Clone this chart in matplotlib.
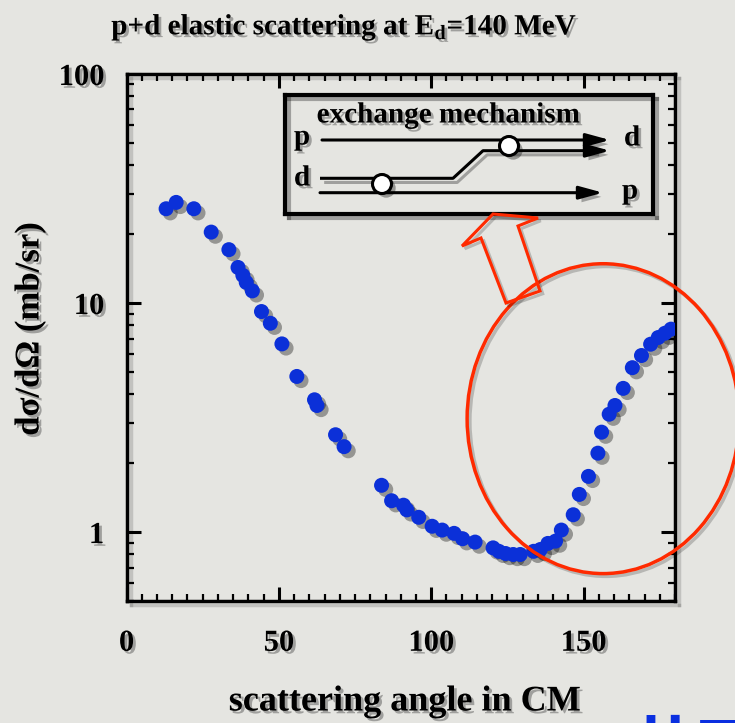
import numpy as np
import matplotlib
matplotlib.use('Agg')
import matplotlib.pyplot as plt
import matplotlib.patheffects as pe
from matplotlib.patches import Ellipse, Polygon, Circle, FancyArrowPatch
from matplotlib.ticker import MultipleLocator, LogLocator, FixedLocator, NullFormatter

plt.rcParams['font.family'] = ['Liberation Serif', 'DejaVu Serif']
plt.rcParams['font.weight'] = 'bold'
plt.rcParams['mathtext.fontset'] = 'custom'
plt.rcParams['mathtext.rm'] = 'Liberation Serif:bold'
plt.rcParams['mathtext.bf'] = 'Liberation Serif:bold'

# p+d elastic cross section
angle = [13.0, 16.3, 22.1, 27.8, 33.6, 36.6, 38.2, 39.3, 41.3, 44.3, 47.2, 51.0,
         55.9, 61.7, 62.5, 68.6, 71.4,
         83.7, 87.0, 90.9, 92.0, 95.9, 100.3, 103.6, 107.5, 110.3, 114.4, 120.3,
         122.2, 124.4, 126.9, 129.2, 133.6, 135.8, 138.3, 140.8, 142.7, 146.6,
         148.6, 151.6, 154.7,
         155.9, 158.4, 160.3, 163.0, 166.0, 169.0, 172.0, 174.5, 176.7, 178.7]
xsec = [25.8, 27.5, 25.8, 20.4, 17.1, 14.3, 13.2, 12.3, 11.3, 9.18, 8.16, 6.63,
        4.78, 3.78, 3.57, 2.66, 2.36,
        1.60, 1.37, 1.31, 1.25, 1.16, 1.06, 1.02, 0.987, 0.935, 0.904, 0.853,
        0.824, 0.806, 0.798, 0.798, 0.824, 0.839, 0.892, 0.913, 1.02, 1.19,
        1.46, 1.75, 2.21,
        2.73, 3.27, 3.57, 4.24, 5.22, 5.90, 6.61, 7.07, 7.38, 7.69]

x_ticks = [0, 50, 100, 150]
y_ticks = [1, 10, 100]

bg = '#e5e5e1'
W, H = 735, 723


def shadow(off=(2, -2), a=0.3):
    return [pe.SimplePatchShadow(offset=off, shadow_rgbFace='black', alpha=a), pe.Normal()]


def lshadow(off=(2, -2), a=0.3):
    return [pe.SimpleLineShadow(offset=off, shadow_color='black', alpha=a), pe.Normal()]


def px(x, y):
    # figure pixel (from top-left) -> figure fraction
    return x / W, 1 - y / H


fig = plt.figure(figsize=(7.35, 7.23), dpi=100, facecolor=bg)
ax = fig.add_axes([126.5 / W, 1 - 601 / H, 548.5 / W, 527 / H])
ax.set_facecolor(bg)

ax.plot(angle, xsec, 'o', color='#0b30d8', markersize=10.8, markeredgewidth=0,
        path_effects=shadow((3, -3), 0.35), zorder=3)

ax.set_yscale('log')
ax.set_xlim(0, 180)
ax.set_ylim(0.5, 100)
ax.xaxis.set_major_locator(FixedLocator(x_ticks))
ax.xaxis.set_minor_locator(MultipleLocator(5))
ax.yaxis.set_major_locator(FixedLocator(y_ticks))
ax.yaxis.set_minor_locator(LogLocator(subs=np.arange(2, 10)))
ax.yaxis.set_minor_formatter(NullFormatter())
ax.set_xticklabels([str(t) for t in x_ticks])
ax.set_yticklabels([str(t) for t in y_ticks])
ax.tick_params(which='both', direction='in', top=True, right=True, colors='black')
ax.tick_params(which='major', length=10, width=2.2)
ax.tick_params(which='minor', length=5, width=1.6)
ax.tick_params(axis='x', pad=20, labelsize=22)
ax.tick_params(axis='y', pad=16, labelsize=22)
for lab in ax.get_xticklabels() + ax.get_yticklabels():
    lab.set_fontweight('bold')
    lab.set_path_effects(shadow())
for sp in ax.spines.values():
    sp.set_linewidth(2.5)
    sp.set_path_effects(lshadow((3, -3), 0.15))

fig.text(*px(344, 27), r'p+d elastic scattering at E$_{\mathbf{d}}$=140 MeV', ha='center',
         va='center', fontsize=21, fontweight='bold', path_effects=shadow())
fig.text(*px(405, 702), 'scattering angle in CM', ha='center', va='center',
         fontsize=26, fontweight='bold', path_effects=shadow())
fig.text(*px(30, 329), 'dσ/dΩ (mb/sr)', ha='center', va='center', rotation=90,
         fontsize=25, fontweight='bold', path_effects=shadow())

# red ellipse around the backward-angle rise
ell = Ellipse((0.869, 0.346), 0.496, 0.588, transform=ax.transAxes, fill=False,
              edgecolor='#ff2a00', linewidth=2.5, clip_on=False, zorder=5,
              path_effects=lshadow((2, -2), 0.2))
ax.add_patch(ell)

# hollow red arrow pointing at the inset
arrow_pts = [(493, 214), (538, 218), (518, 226), (540, 291), (506, 303), (481, 238), (462, 246)]
arr = Polygon([px(x, y) for x, y in arrow_pts], closed=True, fill=False,
              edgecolor='#ff2a00', linewidth=2.2, transform=fig.transFigure, zorder=6,
              path_effects=lshadow((2, -2), 0.2))
fig.patches.append(arr)

# inset: exchange mechanism diagram (coordinates in inset pixels)
ins = fig.add_axes([285 / W, 1 - 214 / H, 368 / W, 119 / H])
ins.set_facecolor(bg)
ins.set_xlim(0, 368)
ins.set_ylim(119, 0)
ins.set_xticks([])
ins.set_yticks([])
for sp in ins.spines.values():
    sp.set_linewidth(3)
    sp.set_path_effects(lshadow((3, -3), 0.3))

ins.text(163, 20, 'exchange mechanism', ha='center', va='center', fontsize=21,
         fontweight='bold', path_effects=shadow())
for (tx, ty, s) in [(17, 42, 'p'), (17, 83, 'd'), (347, 43, 'd'), (345, 96, 'p')]:
    ins.text(tx, ty, s, ha='center', va='center', fontsize=21, fontweight='bold',
             path_effects=shadow())

lw = 2.2
ins.plot([35, 168, 198, 310], [83.3, 83.3, 55.7, 55.7], color='black', lw=lw,
         solid_capstyle='butt', path_effects=lshadow((3, -3), 0.3))
for (x0, y0, x1, y1) in [(37, 45, 325, 45), (300, 55.7, 325, 55.7), (35, 97.7, 318, 97.7)]:
    ins.add_patch(FancyArrowPatch((x0, y0), (x1, y1), arrowstyle='-|>,head_length=1.1,head_width=0.3',
                                  mutation_scale=13, color='black', lw=lw, shrinkA=0, shrinkB=0,
                                  path_effects=shadow((3, -3), 0.3)))
for (cx, cy) in [(224, 51), (97, 89)]:
    ins.add_patch(Circle((cx, cy), 9.5, facecolor='white', edgecolor='black', lw=2.2,
                         zorder=4, path_effects=shadow((3, -3), 0.35)))

# partly visible blue text at the bottom right corner
fig.text(*px(628, 718), '井下', ha='left', va='top', fontsize=50, color='#0a2fe0',
         family=['Noto Sans CJK JP', 'DejaVu Sans'])

fig.savefig('out.png', dpi=100, facecolor=bg)
